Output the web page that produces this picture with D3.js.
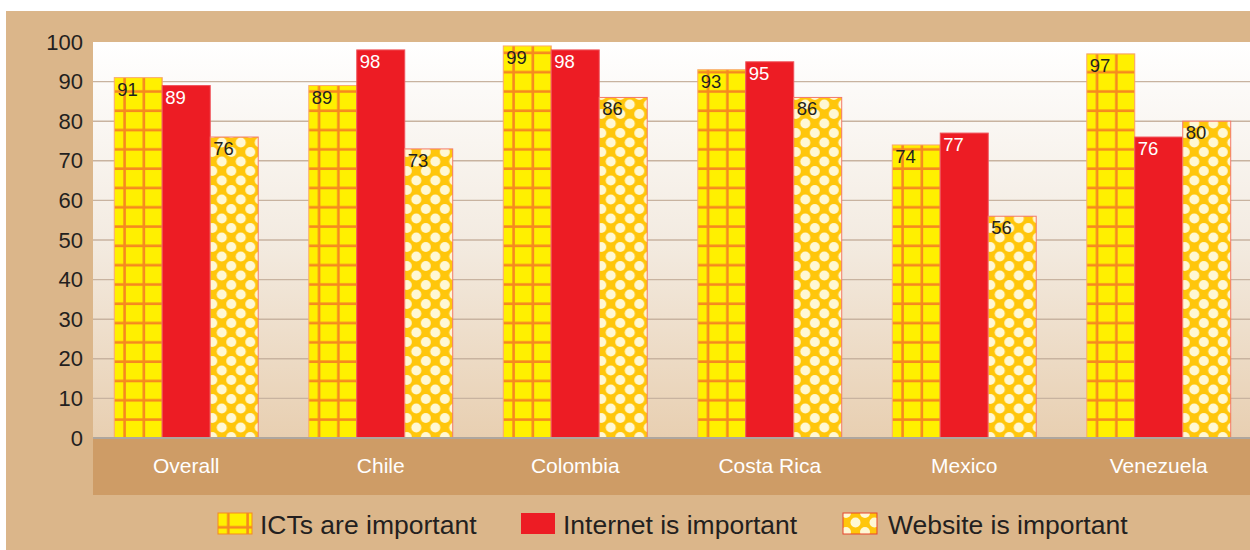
<!DOCTYPE html>
<html>
<head>
<meta charset="utf-8">
<script src="https://cdn.jsdelivr.net/npm/d3@7"></script>
<style>
  html, body { margin: 0; padding: 0; background: #ffffff; }
  svg { display: block; font-family: "Liberation Sans", Arial, Helvetica, sans-serif; }
</style>
</head>
<body>
<svg id="chart" width="1250" height="550"></svg>
<script>
// Survey: share of respondents rating each item as important (%)
const categories = ["Overall", "Chile", "Colombia", "Costa Rica", "Mexico", "Venezuela"];
const seriesNames = ["ICTs are important", "Internet is important", "Website is important"];
const ictValues = [91, 89, 99, 93, 74, 97];
const internetValues = [89, 98, 98, 95, 77, 76];
const websiteValues = [76, 73, 86, 86, 56, 80];
const yTicks = [0, 10, 20, 30, 40, 50, 60, 70, 80, 90, 100];

const seriesValues = [ictValues, internetValues, websiteValues];

const svg = d3.select("#chart");
const W = 1250, H = 550;

// frame geometry
const plot = { left: 93, right: 1250, top: 42, bottom: 438 };
const bandBottom = 495;

const defs = svg.append("defs");

// plot background gradient
const grad = defs.append("linearGradient")
  .attr("id", "plotBg").attr("x1", 0).attr("y1", 0).attr("x2", 0).attr("y2", 1);
grad.append("stop").attr("offset", "0%").attr("stop-color", "#ffffff");
grad.append("stop").attr("offset", "50%").attr("stop-color", "#f3ebe1");
grad.append("stop").attr("offset", "100%").attr("stop-color", "#e8cfb1");

// grid fill for "ICTs are important"
const gridPat = defs.append("pattern")
  .attr("id", "gridFill").attr("patternUnits", "userSpaceOnUse")
  .attr("width", 19.3).attr("height", 19.3).attr("x", 0).attr("y", 4);
gridPat.append("rect").attr("width", 19.3).attr("height", 19.3).attr("fill", "#fff000");
gridPat.append("rect").attr("x", 9).attr("y", 0).attr("width", 2.6).attr("height", 19.3).attr("fill", "#f6891f");
gridPat.append("rect").attr("x", 0).attr("y", 9).attr("width", 19.3).attr("height", 2.6).attr("fill", "#f6891f");

// polka-dot fill for "Website is important"
const dotPat = defs.append("pattern")
  .attr("id", "dotFill").attr("patternUnits", "userSpaceOnUse")
  .attr("width", 19).attr("height", 19).attr("x", 3).attr("y", 0);
dotPat.append("rect").attr("width", 19).attr("height", 19).attr("fill", "#ffc60b");
[[0, 0], [19, 0], [0, 19], [19, 19], [9.5, 9.5]].forEach(([cx, cy]) => {
  dotPat.append("circle").attr("cx", cx).attr("cy", cy).attr("r", 5).attr("fill", "#fff8d4");
});

const fills = ["url(#gridFill)", "#ed1c24", "url(#dotFill)"];
const strokes = ["#f9a96e", "#f0545b", "#f3786a"];
const labelColors = ["#231f20", "#ffffff", "#231f20"];

// outer tan panel
svg.append("rect").attr("x", 6).attr("y", 11).attr("width", W - 6).attr("height", H - 11)
  .attr("fill", "#dbb68a");

// plot background
svg.append("rect").attr("x", plot.left).attr("y", plot.top)
  .attr("width", plot.right - plot.left).attr("height", plot.bottom - plot.top)
  .attr("fill", "url(#plotBg)");

// category band
svg.append("rect").attr("x", plot.left).attr("y", plot.bottom)
  .attr("width", plot.right - plot.left).attr("height", bandBottom - plot.bottom)
  .attr("fill", "#ce9c66");

// scales
const y = d3.scaleLinear().domain([0, 100]).range([plot.bottom, plot.top]);
const x0 = d3.scaleBand().domain(categories).range([89, 1256])
  .paddingInner(0.26).paddingOuter(0.13);
const x1 = d3.scaleBand().domain(seriesNames).range([0, x0.bandwidth()]).padding(0);

// gridlines
svg.append("g").selectAll("line")
  .data(yTicks.filter(t => t > 0 && t < 100))
  .join("line")
  .attr("x1", plot.left).attr("x2", plot.right)
  .attr("y1", d => y(d)).attr("y2", d => y(d))
  .attr("stroke", "#c8b3a0").attr("stroke-width", 1.4);

// y axis labels
const yAxis = d3.axisLeft(y).tickValues(yTicks).tickSize(0).tickPadding(10);
const yAxisG = svg.append("g").attr("transform", `translate(${plot.left},0)`).call(yAxis);
yAxisG.select(".domain").remove();
yAxisG.selectAll("text")
  .attr("font-family", "'Liberation Sans', Arial, sans-serif")
  .attr("font-size", 22).attr("fill", "#231f20");

// bars
const rows = categories.map((c, i) => ({
  category: c,
  items: seriesNames.map((s, k) => ({ series: s, k, value: seriesValues[k][i] }))
}));

const groups = svg.append("g").selectAll("g")
  .data(rows).join("g")
  .attr("transform", d => `translate(${x0(d.category)},0)`);

groups.selectAll("rect")
  .data(d => d.items).join("rect")
  .attr("x", d => x1(d.series))
  .attr("y", d => y(d.value))
  .attr("width", x1.bandwidth())
  .attr("height", d => y(0) - y(d.value))
  .attr("fill", d => fills[d.k])
  .attr("stroke", d => strokes[d.k])
  .attr("stroke-width", 1);

groups.selectAll("text")
  .data(d => d.items).join("text")
  .attr("x", d => x1(d.series) + 3)
  .attr("y", d => y(d.value) + 18)
  .attr("font-size", 18.5)
  .attr("fill", d => labelColors[d.k])
  .text(d => d.value);

// zero line
svg.append("line")
  .attr("x1", plot.left).attr("x2", plot.right)
  .attr("y1", y(0)).attr("y2", y(0))
  .attr("stroke", "#aea69e").attr("stroke-width", 2);

// category labels
const xAxis = d3.axisBottom(x0).tickSize(0).tickPadding(0);
const xAxisG = svg.append("g").attr("transform", `translate(0,${plot.bottom})`).call(xAxis);
xAxisG.select(".domain").remove();
xAxisG.selectAll("text")
  .attr("font-family", "'Liberation Sans', Arial, sans-serif")
  .attr("font-size", 21).attr("fill", "#ffffff")
  .attr("y", 34.5).attr("dy", 0);

// legend
const legendItems = [
  { name: seriesNames[0], k: 0, x: 218 },
  { name: seriesNames[1], k: 1, x: 521 },
  { name: seriesNames[2], k: 2, x: 843 }
];
const legend = svg.append("g").selectAll("g").data(legendItems).join("g")
  .attr("transform", d => `translate(${d.x},513)`);
legend.append("rect")
  .attr("width", 34).attr("height", 21)
  .attr("fill", d => fills[d.k])
  .attr("stroke", d => d.k === 2 ? "#e8452c" : d.k === 0 ? "#f6891f" : "none")
  .attr("stroke-width", 1);
legend.append("text")
  .attr("x", d => d.k === 2 ? 45 : 42)
  .attr("y", 21)
  .attr("font-size", 26.5)
  .attr("fill", "#231f20")
  .text(d => d.name);
</script>
</body>
</html>
